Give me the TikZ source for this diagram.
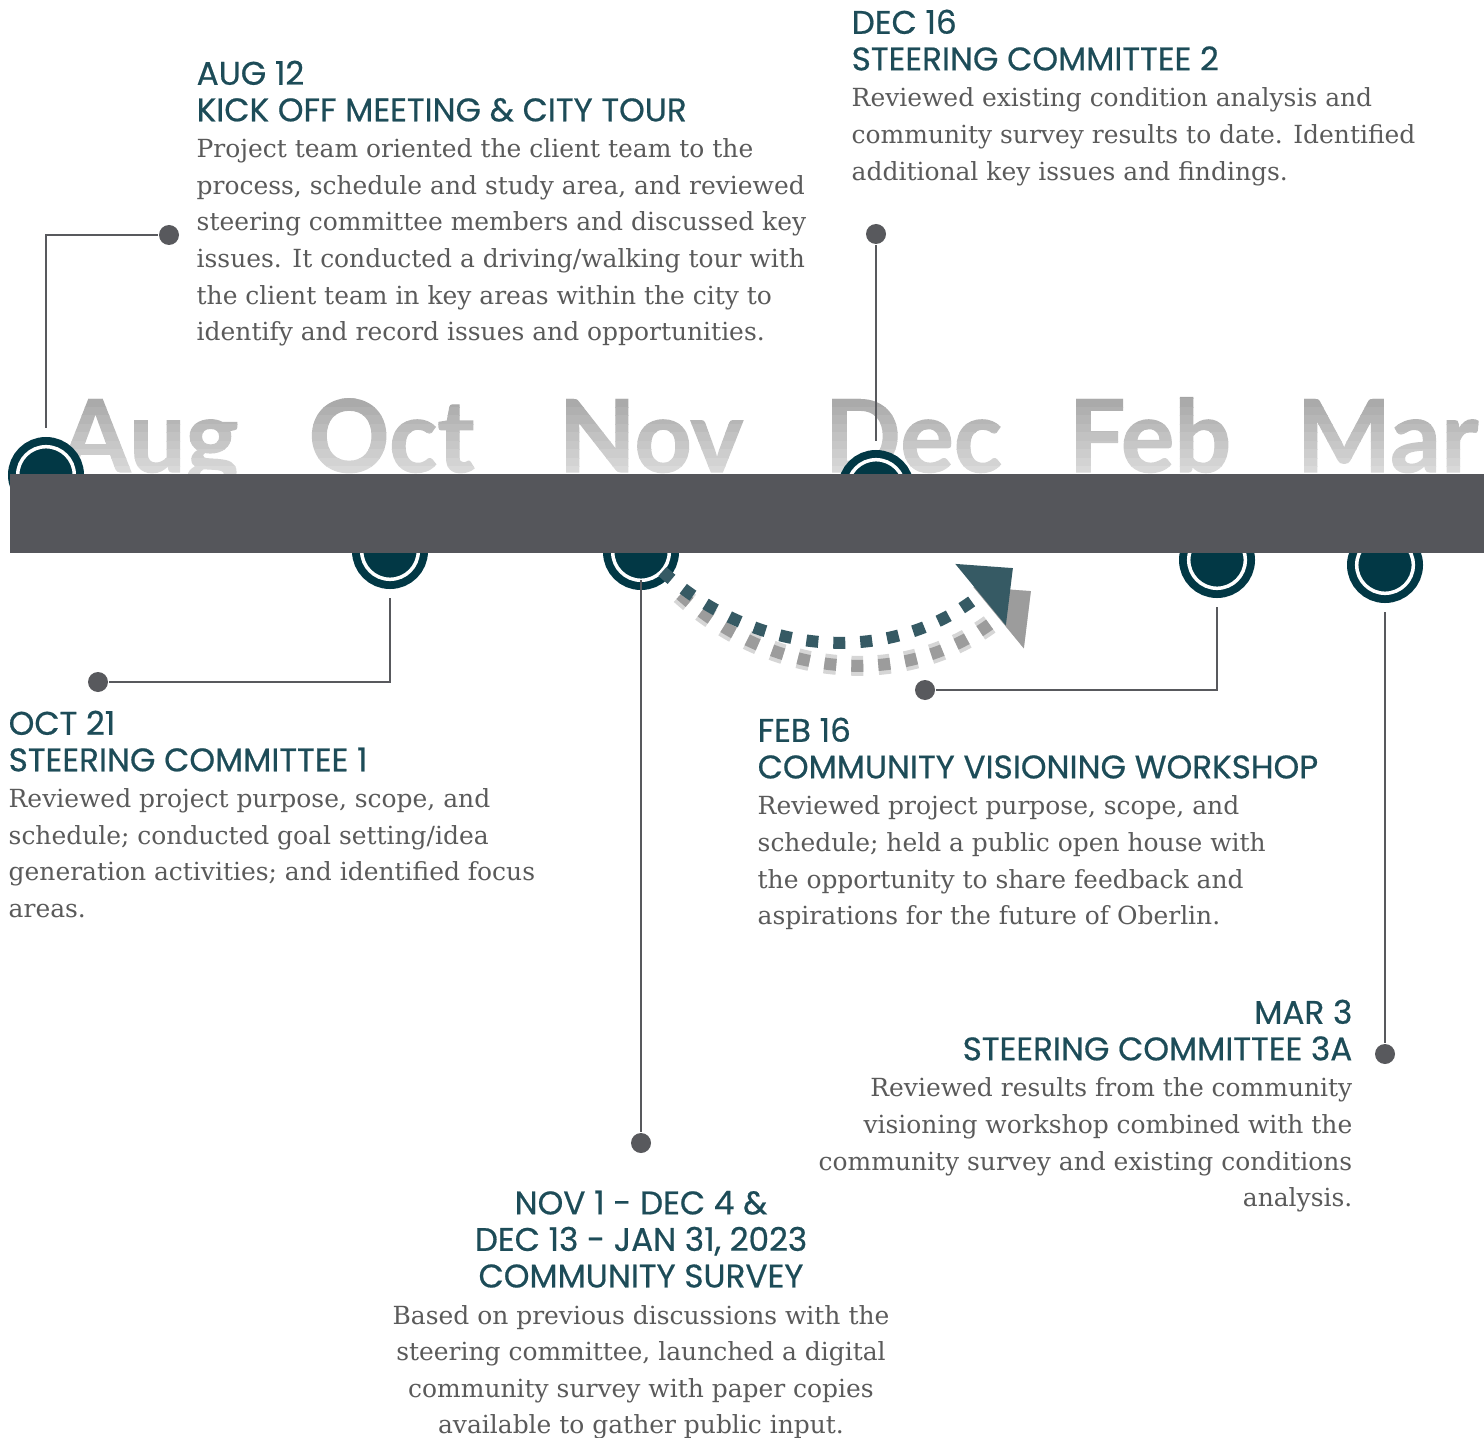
\documentclass[tikz,border=0pt]{standalone}
\usepackage{xcolor}
\usepackage{fontspec}
\usepackage{tikz}
\usetikzlibrary{arrows.meta}
\setmainfont{DejaVu Serif}
\newfontfamily\headfont{Poppins}[FakeBold=0.6]
\newfontfamily\monthfont{Lato}[BoldFeatures={FakeBold=1.2}]
\definecolor{barfill}{HTML}{55565B}
\definecolor{ringfill}{HTML}{023845}
\definecolor{leadgray}{HTML}{58595D}
\definecolor{headteal}{HTML}{1D4C58}
\definecolor{bodygray}{HTML}{5A5A5A}
\definecolor{flowteal}{HTML}{365A64}
\definecolor{shadowlight}{HTML}{D6D6D6}
\definecolor{shadowdark}{HTML}{9C9C9C}
\definecolor{monthtop}{HTML}{A4A4A4}
\definecolor{monthbottom}{HTML}{DFDFDF}

\newcommand{\evhead}[1]{{\headfont\fontsize{9.3}{10.4}\selectfont\color{headteal}#1}}

\begin{document}
\begin{tikzpicture}[
  x=1cm,
  y=1cm,
  monthlabel/.style={
    anchor=base west,
    inner sep=0pt,
    font=\monthfont\bfseries\fontsize{28.5}{30}\selectfont
  },
  milestone/.style={
    circle,
    fill=ringfill,
    draw=white,
    line width=0.035cm,
    minimum size=0.566cm,
    inner sep=0pt,
    outer sep=0.19cm,
    preaction={draw=ringfill, line width=0.194cm}
  },
  enddot/.style={
    circle,
    fill=leadgray,
    minimum size=0.2cm,
    inner sep=0pt
  },
  leader/.style={
    draw=leadgray,
    line width=0.025cm
  },
  event/.style={
    inner sep=0pt,
    text=bodygray,
    font=\fontsize{7.1}{10.4}\selectfont
  },
  flow/.style={
    draw=flowteal,
    line width=0.12cm,
    dash pattern=on 0.12cm off 0.15cm,
    -{Triangle[length=0.42cm,width=0.77cm]}
  }
]

\useasboundingbox (0,0) rectangle (14.84,-14.38);

% Month names, shaded top to bottom in thin bands
\foreach \k in {0,...,9} {
  \pgfmathtruncatemacro\mix{100-\k*10}
  \begin{scope}
    \clip (0,{-3.90-\k*0.085}) rectangle (14.84,{-3.90-(\k+1)*0.085});
    \foreach \m/\x in {Aug/0.60,Oct/3.08,Nov/5.58,Dec/8.24,Feb/10.68,Mar/12.96}
      \node[monthlabel, text=monthtop!\mix!monthbottom] (m\m\k) at (\x,-4.72) {\m};
  \end{scope}
}

% Milestones
\node[milestone] (aug) at (0.46,-4.75)  {};
\node[milestone] (oct) at (3.90,-5.51)  {};
\node[milestone] (nov) at (6.41,-5.52)  {};
\node[milestone] (dec) at (8.76,-4.88)  {};
\node[milestone] (feb) at (12.17,-5.60) {};
\node[milestone] (mar) at (13.85,-5.65) {};

% Timeline bar
\fill[barfill] (0.10,-4.74) rectangle (14.84,-5.53);

% Leader ends
\node[enddot] (augdot) at (1.69,-2.35)  {};
\node[enddot] (decdot) at (8.76,-2.34)  {};
\node[enddot] (octdot) at (0.98,-6.82)  {};
\node[enddot] (novdot) at (6.41,-11.43) {};
\node[enddot] (febdot) at (9.25,-6.90)  {};
\node[enddot] (mardot) at (13.85,-10.54) {};

\draw[leader] (aug.north) |- (augdot);
\draw[leader] (dec.north) -- (decdot);
\draw[leader] (oct.south) |- (octdot);
\draw[leader, shorten <=-0.19cm] (nov.south) -- (novdot);
\draw[leader] (feb.south) |- (febdot);
\draw[leader] (mar.south) -- (mardot);

% Events
\node[event, anchor=north west, align=left] (augtext) at (1.96,-0.60)
{\evhead{AUG 12}\\
\evhead{KICK OFF MEETING \& CITY TOUR}\\
Project team oriented the client team to the\\
process, schedule and study area, and reviewed\\
steering committee members and discussed key\\
issues. It conducted a driving/walking tour with\\
the client team in key areas within the city to\\
identify and record issues and opportunities.};

\node[event, anchor=north west, align=left] (dectext) at (8.51,-0.09)
{\evhead{DEC 16}\\
\evhead{STEERING COMMITTEE 2}\\
Reviewed existing condition analysis and\\
community survey results to date. Identified\\
additional key issues and findings.};

\node[event, anchor=north west, align=left] (octtext) at (0.08,-7.10)
{\evhead{OCT 21}\\
\evhead{STEERING COMMITTEE 1}\\
Reviewed project purpose, scope, and\\
schedule; conducted goal setting/idea\\
generation activities; and identified focus\\
areas.};

\node[event, anchor=north west, align=left] (febtext) at (7.57,-7.17)
{\evhead{FEB 16}\\
\evhead{COMMUNITY VISIONING WORKSHOP}\\
Reviewed project purpose, scope, and\\
schedule; held a public open house with\\
the opportunity to share feedback and\\
aspirations for the future of Oberlin.};

\node[event, anchor=north east, align=right] (martext) at (13.53,-9.99)
{\evhead{MAR 3}\\
\evhead{STEERING COMMITTEE 3A}\\
Reviewed results from the community\\
visioning workshop combined with the\\
community survey and existing conditions\\
analysis.};

\node[event, anchor=north, align=center] (novtext) at (6.41,-11.90)
{\evhead{NOV 1 - DEC 4 \&}\\
\evhead{DEC 13 - JAN 31, 2023}\\
\evhead{COMMUNITY SURVEY}\\
Based on previous discussions with the\\
steering committee, launched a digital\\
community survey with paper copies\\
available to gather public input.};

% Survey period arrow
\coordinate (flowend) at (10.13,-5.68);
\foreach \w/\c in {0.20/shadowlight,0.12/shadowdark} {
  \draw[flow, draw=\c, line width=\w cm, shorten <=0.29cm,
    transform canvas={shift={(0.18,-0.23)}}]
    (nov.center) .. controls (7.60,-6.60) and (8.95,-6.65) .. (flowend);
}
\draw[flow, shorten <=0.29cm]
  (nov.center) .. controls (7.60,-6.60) and (8.95,-6.65) .. (flowend);

\end{tikzpicture}
\end{document}
